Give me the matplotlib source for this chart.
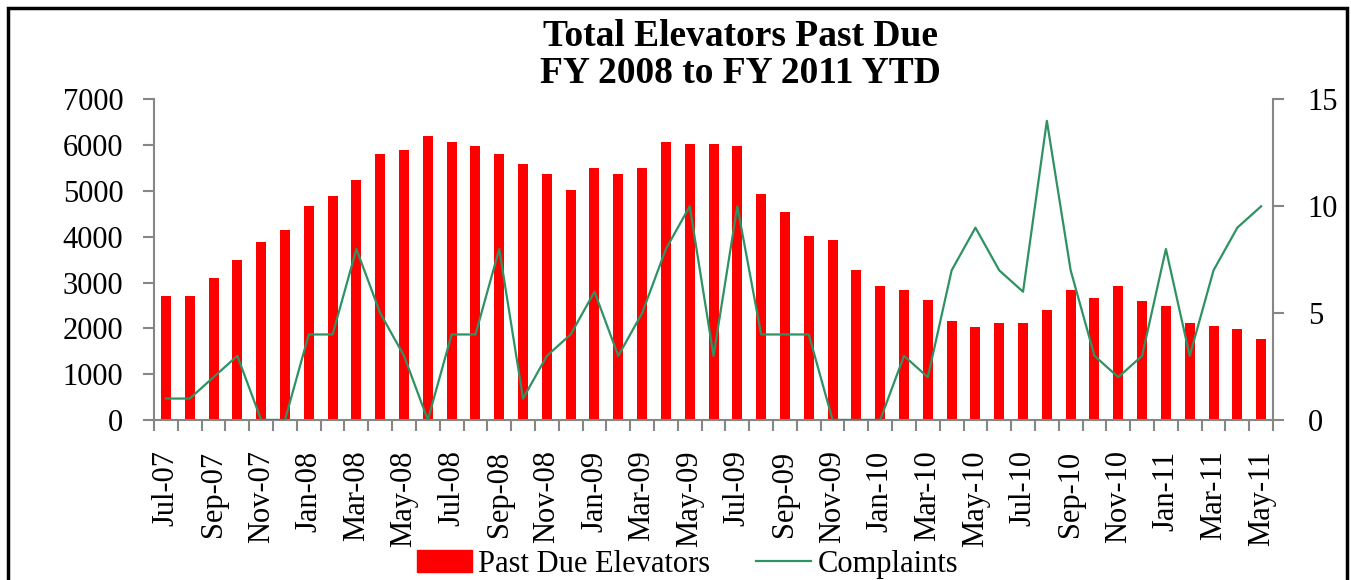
import matplotlib
matplotlib.use("Agg")
import matplotlib.pyplot as plt
import matplotlib.patches as mpatches
import numpy as np

# monthly data, Jul-07 .. May-11
months = ["Jul-07", "Aug-07", "Sep-07", "Oct-07", "Nov-07", "Dec-07",
          "Jan-08", "Feb-08", "Mar-08", "Apr-08", "May-08", "Jun-08",
          "Jul-08", "Aug-08", "Sep-08", "Oct-08", "Nov-08", "Dec-08",
          "Jan-09", "Feb-09", "Mar-09", "Apr-09", "May-09", "Jun-09",
          "Jul-09", "Aug-09", "Sep-09", "Oct-09", "Nov-09", "Dec-09",
          "Jan-10", "Feb-10", "Mar-10", "Apr-10", "May-10", "Jun-10",
          "Jul-10", "Aug-10", "Sep-10", "Oct-10", "Nov-10", "Dec-10",
          "Jan-11", "Feb-11", "Mar-11", "Apr-11", "May-11"]

past_due = [2710, 2710, 3100, 3500, 3890, 4150,
            4680, 4890, 5240, 5810, 5890, 6200,
            6070, 5980, 5810, 5590, 5370, 5030,
            5500, 5370, 5500, 6070, 6030, 6030,
            5980, 4940, 4540, 4020, 3940, 3280,
            2930, 2840, 2630, 2150, 2020, 2110,
            2110, 2410, 2840, 2670, 2930, 2590,
            2490, 2110, 2060, 1980, 1770]

complaints = [1, 1, 2, 3, 0, 0,
              4, 4, 8, 5, 3, 0,
              4, 4, 8, 1, 3, 4,
              6, 3, 5, 8, 10, 3,
              10, 4, 4, 4, 0, 0,
              0, 3, 2, 7, 9, 7,
              6, 14, 7, 3, 2, 3,
              8, 3, 7, 9, 10]

plt.rcParams['font.family'] = ['Liberation Serif', 'DejaVu Serif']

fig = plt.figure(figsize=(13.51, 5.80), dpi=100)
ax = fig.add_axes([0.114, 0.276, 0.8283, 0.5525])
ax2 = ax.twinx()

x = np.arange(len(months))
gray = "#868686"
green = "#2E9262"

ax.bar(x, past_due, width=0.42, color="#FF0000", zorder=2)
ax2.plot(x, complaints, color=green, lw=1.6, zorder=3)

ax.set_xlim(-0.5, len(months) - 0.5)
ax.set_ylim(0, 7000)
ax.set_yticks(range(0, 7001, 1000))
ax2.set_ylim(0, 15)
ax2.set_yticks([0, 5, 10, 15])

# category labels every other month, tick marks between categories
ax.set_xticks(x[::2])
ax.set_xticklabels(months[::2], rotation=90, fontsize=22)
ax.set_xticks(np.arange(-0.5, len(months)), minor=True)
ax.tick_params(axis="x", which="major", length=0, pad=22)
ax.tick_params(axis="x", which="minor", length=8, width=1.5, color=gray)
ax.tick_params(axis="y", length=8, width=1.5, color=gray, labelsize=22, pad=14)
ax2.tick_params(axis="y", length=8, width=1.5, color=gray, labelsize=22, pad=17)

for a in (ax, ax2):
    for s in a.spines.values():
        s.set_visible(False)
ax.spines["left"].set_visible(True)
ax.spines["bottom"].set_visible(True)
ax2.spines["right"].set_visible(True)
for s in (ax.spines["left"], ax.spines["bottom"], ax2.spines["right"]):
    s.set_color(gray)
    s.set_linewidth(1.5)

fig.text(0.548, 0.968, "Total Elevators Past Due\nFY 2008 to FY 2011 YTD",
         ha="center", va="top", fontsize=27, fontweight="bold", linespacing=1.1)

handles = [mpatches.Patch(color="#FF0000", label="Past Due Elevators"),
           plt.Line2D([], [], color=green, lw=1.6, label="Complaints")]
fig.legend(handles=handles, loc="center", bbox_to_anchor=(0.509, 0.027), ncol=2,
           frameon=False, fontsize=22, handlelength=1.8, handletextpad=0.2,
           columnspacing=1.5)

# outer frame of the chart area
frame = mpatches.Rectangle((0.006, -0.1), 0.991, 1.086, transform=fig.transFigure,
                           fill=False, edgecolor="black", lw=2.5)
fig.patches.append(frame)

fig.savefig("out.png", dpi=100)
